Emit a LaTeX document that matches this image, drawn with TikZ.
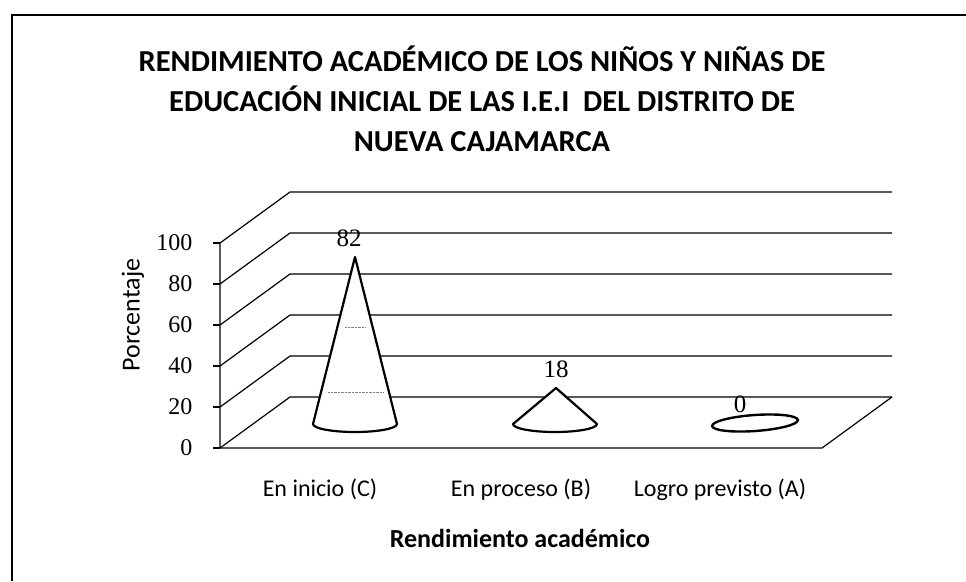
\documentclass[tikz,border=0pt]{standalone}
\usepackage{fontspec}
\setmainfont{Liberation Serif}
\newfontfamily\calibrifont{Carlito}
\begin{document}
\begin{tikzpicture}[x=1pt, y=-1pt,
        gridline/.style={line width=1.2pt, color=black},
        conepart/.style={line width=2.2pt, fill=white, line join=round},
        ticklabel/.style={anchor=east, font=\fontsize{24}{24}\selectfont},
        datalabel/.style={font=\fontsize{25}{25}\selectfont},
        catlabel/.style={anchor=base, font=\calibrifont\fontsize{24}{24}\selectfont}]
            \useasboundingbox (0,0) rectangle (966,581);

            % Frame
            \draw [line width=1.5pt] (12,581) -- (12,15) -- (966,15);

            % Title
            \node (title) at (482,99) [align=center, font=\calibrifont\bfseries\fontsize{30.5}{40}\selectfont]
                {RENDIMIENTO ACADÉMICO DE LOS NIÑOS Y NIÑAS DE\\
                 EDUCACIÓN INICIAL DE LAS I.E.I~ DEL DISTRITO DE\\
                 NUEVA CAJAMARCA};

            % Side wall, back wall and ticks
            \foreach \k/\val in {0/0, 1/20, 2/40, 3/60, 4/80, 5/100} {
                \draw [gridline] (220,{448-41*\k}) -- (290,{397-41*\k}) -- (892,{397-41*\k});
                \draw [gridline] (213,{448-41*\k}) -- (220,{448-41*\k});
                \node (tick\val) at (196,{448-41*\k}) [ticklabel] {\val};
            }

            % Axis and floor
            \draw [gridline] (220,243) -- (220,448) -- (822,448) -- (892,397);

            % En inicio (C): 82
            \draw [conepart] (313,424) -- (355,257) -- (397,424)
                arc [start angle=0, end angle=180, x radius=42, y radius=8] -- cycle;
            \draw [densely dotted, gray] (328,392) -- (383,392);
            \draw [densely dotted, gray] (345,327) -- (365,327);
            \node (val82) at (349,238) [datalabel] {82};

            % En proceso (B): 18
            \draw [conepart] (513,424) -- (556,388) -- (597,424)
                arc [start angle=0, end angle=180, x radius=42, y radius=8] -- cycle;
            \node (val18) at (556,369) [datalabel] {18};

            % Logro previsto (A): 0
            \draw [line width=2.4pt, rotate around={4:(755,423)}] (755,423) ellipse [x radius=43, y radius=8];
            \node (val0) at (740,404) [datalabel] {0};

            % Categories
            \node (catC) at (320,496) [catlabel] {En inicio (C)};
            \node (catB) at (521,496) [catlabel] {En proceso (B)};
            \node (catA) at (720,496) [catlabel] {Logro previsto (A)};

            % Axis titles
            \node (xtitle) at (520,538) [font=\calibrifont\bfseries\fontsize{26}{26}\selectfont] {Rendimiento académico};
            \node (ytitle) at (133,315) [rotate=90, font=\calibrifont\fontsize{26}{26}\selectfont] {Porcentaje};
        \end{tikzpicture}
\end{document}
